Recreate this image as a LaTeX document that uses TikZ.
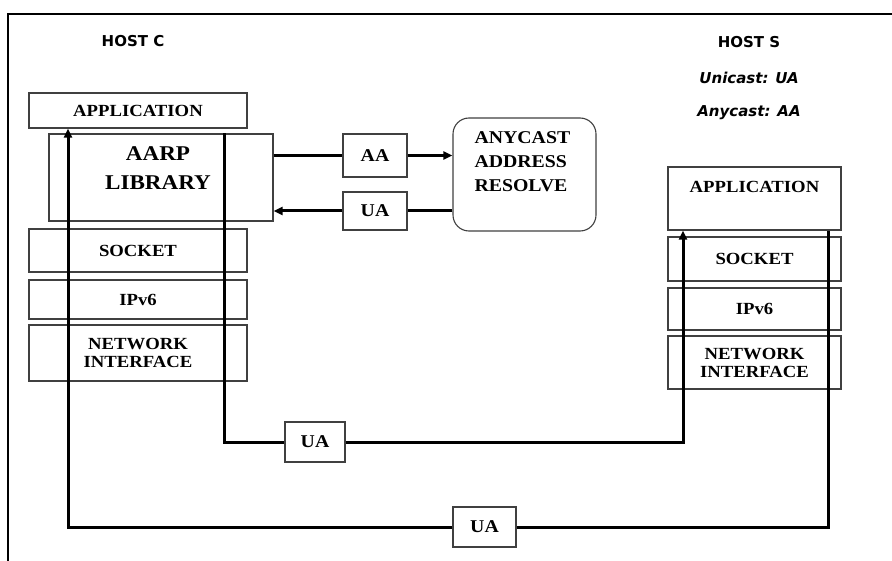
\documentclass[tikz,border=0pt]{standalone}
\usepackage{fontspec}
\usetikzlibrary{arrows.meta}
\newfontfamily\boxfont[FakeStretch=1.1]{Liberation Serif}
\newfontfamily\hostfont{DejaVu Sans}
\tikzset{
  layer/.style={draw=black!75, line width=1.1pt, fill=white, inner sep=0pt,
    font=\boxfont\bfseries\fontsize{17}{18}\selectfont, align=center},
  tag/.style={layer, font=\boxfont\bfseries\fontsize{18}{20}\selectfont},
  flow/.style={line width=3pt, line join=miter},
  tip/.style={-{Triangle[length=9pt,width=8pt]}},
  hosttext/.style={font=\hostfont\bfseries\fontsize{15}{17}\selectfont},
  casttext/.style={font=\hostfont\bfseries\itshape\fontsize{15}{17}\selectfont}
}
\begin{document}
\begin{tikzpicture}[x=1pt,y=-1pt]
			\useasboundingbox (0,0) rectangle (892,561);
			
			% frame
			\draw[line width=2pt] (8,561) -- (8,14) -- (892,14);
			
			% host C
			\node[hosttext] (hostC) at (133,41) {HOST C};
			\node[layer, minimum width=218, minimum height=35] (appC) at (138,110.5) {APPLICATION};
			\node[layer, minimum width=224, minimum height=87] (aarp) at (161,177.5) {};
			\node[font=\boxfont\bfseries\fontsize{21}{29}\selectfont, align=center] (aarptext) at (158,168) {AARP\\LIBRARY};
			\node[layer, minimum width=218, minimum height=43] (sockC) at (138,250.5) {SOCKET};
			\node[layer, minimum width=218, minimum height=39] (ipC) at (138,299.5) {IPv6};
			\node[layer, minimum width=218, minimum height=56] (netC) at (138,353) {NETWORK\\INTERFACE};
			
			% host S
			\node[hosttext] (hostS) at (749,42) {HOST S};
			\node[casttext] (uni) at (749,78) {Unicast: UA};
			\node[casttext] (any) at (749,113) {Anycast: AA};
			\node[layer, minimum width=173, minimum height=63, text depth=24pt] (appS) at (754.5,198.5) {APPLICATION};
			\node[layer, minimum width=173, minimum height=44] (sockS) at (754.5,259) {SOCKET};
			\node[layer, minimum width=173, minimum height=42] (ipS) at (754.5,309) {IPv6};
			\node[layer, minimum width=173, minimum height=53] (netS) at (754.5,362.5) {NETWORK\\INTERFACE};
			
			% resolver
			\node[layer, rounded corners=16pt, minimum width=143, minimum height=113] (anycast) at (524.5,174.5) {};
			\node[font=\boxfont\bfseries\fontsize{18}{24}\selectfont, align=left, anchor=west] (anytext) at (471,162) {ANYCAST\\ADDRESS\\RESOLVE};
			\node[tag, minimum width=64, minimum height=43] (aa) at (375,155.5) {AA};
			\node[tag, minimum width=64, minimum height=38] (uaTop) at (375,211) {UA};
			
			\draw[flow] (aarp.east |- aa.west) -- (aa.west);
			\draw[flow, tip] (aa.east) -- (anycast.west |- aa.east);
			\draw[flow] (anycast.west |- uaTop.east) -- (uaTop.east);
			\draw[flow, tip] (uaTop.west) -- (aarp.east |- uaTop.west);
			
			% unicast reply paths
			\node[tag, minimum width=60, minimum height=40] (uaMid) at (315,442) {UA};
			\node[tag, minimum width=63, minimum height=40] (uaBot) at (484.5,527) {UA};
			
			\coordinate (ml) at (224,442);
			\coordinate (mr) at (683,442);
			\draw[flow] (ml |- aarp.north) -- (ml) -- (uaMid.west);
			\draw[flow, tip] (uaMid.east) -- (mr) -- (mr |- appS.south);
			
			\coordinate (bl) at (68,527);
			\coordinate (br) at (828,527);
			\draw[flow, tip] (uaBot.west) -- (bl) -- (bl |- appC.south);
			\draw[flow] (uaBot.east) -- (br) -- (br |- appS.south);
			
\end{tikzpicture}
\end{document}
